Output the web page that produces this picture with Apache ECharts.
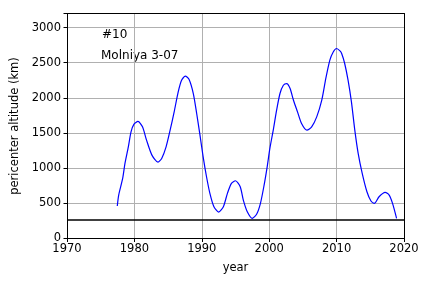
<!DOCTYPE html>
<html><head><meta charset="utf-8">
<script src="https://cdn.jsdelivr.net/npm/echarts@6/dist/echarts.min.js"></script>
<style>html,body{margin:0;padding:0;background:#fff}#c{width:432px;height:288px}</style>
</head><body><div id="c"></div>
<script>
const years = [1977.46,1977.67,1978.26,1978.6,1979.1,1979.5,1979.94,1980.53,1981.2,1981.8,1982.6,1983.5,1984.05,1984.7,1985.3,1985.9,1986.5,1987.0,1987.55,1988.1,1988.74,1989.24,1989.73,1990.2,1990.7,1991.2,1991.8,1992.5,1993.2,1993.8,1994.4,1995.0,1995.7,1996.16,1996.75,1997.5,1998.15,1998.7,1999.2,1999.7,2000.1,2000.6,2001.1,2001.6,2002.1,2002.6,2003.1,2003.6,2004.2,2004.8,2005.6,2006.3,2007.05,2007.8,2008.4,2009.0,2009.5,2010.0,2010.5,2010.75,2011.2,2011.7,2012.2,2012.7,2013.2,2013.8,2014.5,2015.1,2015.6,2016.3,2017.2,2017.8,2018.3,2018.9];
const altitudes = [462,618,855,1068,1304,1517,1626,1665,1588,1399,1186,1087,1139,1304,1541,1801,2085,2251,2308,2265,2062,1778,1470,1162,878,642,452,376,452,642,784,821,736,547,381,287,348,500,736,1020,1281,1541,1825,2062,2180,2204,2133,1967,1801,1636,1541,1588,1730,1967,2276,2536,2653,2702,2668,2631,2489,2251,1943,1541,1210,926,665,533,500,594,656,618,500,287];
const refLineYears = [1970, 2020];
const refLineValue = 263;
const xTicks = [1970,1980,1990,2000,2010,2020];
const yTicks = [0,500,1000,1500,2000,2500,3000];
const labelNumber = '#10';
const satName = 'Molniya 3-07';

const chart = echarts.init(document.getElementById('c'));
const font = 'DejaVu Sans';
const frameAxis = {show:true,axisLine:{show:true,onZero:false,lineStyle:{color:'#000',width:1}},axisTick:{show:false},axisLabel:{show:false},splitLine:{show:false}};
chart.setOption({
  animation:false,
  grid:{left:67,right:28,top:13.5,bottom:49.5},
  xAxis:[{type:'value',min:xTicks[0],max:xTicks[xTicks.length-1],interval:10,
    name:'year',nameLocation:'middle',nameGap:24,nameTextStyle:{fontFamily:font,fontSize:11.5,color:'#000'},
    axisLine:{show:true,onZero:false,lineStyle:{color:'#000',width:1}},
    axisTick:{show:true,length:3.5,lineStyle:{color:'#000'}},
    axisLabel:{margin:5,fontFamily:font,fontSize:11.5,color:'#000',formatter:v=>String(v)},
    splitLine:{show:true,lineStyle:{color:'#b0b0b0',width:1}}},
    Object.assign({type:'value',position:'top',min:xTicks[0],max:xTicks[xTicks.length-1]},frameAxis)],
  yAxis:[{type:'value',min:0,max:3200,interval:500,
    name:'pericenter altitude (km)',nameLocation:'middle',nameGap:40,nameTextStyle:{fontFamily:font,fontSize:11.5,color:'#000'},
    axisLine:{show:true,onZero:false,lineStyle:{color:'#000',width:1}},
    axisTick:{show:true,length:3.5,lineStyle:{color:'#000'}},
    axisLabel:{margin:6,fontFamily:font,fontSize:11.5,color:'#000',formatter:v=>yTicks.includes(v)?String(v):''},
    splitLine:{show:true,lineStyle:{color:'#b0b0b0',width:1}}},
    Object.assign({type:'value',position:'right',min:0,max:3200},frameAxis)],
  graphic:[
    {type:'text',left:102,top:29,style:{text:labelNumber,font:'12px "DejaVu Sans"',fill:'#000'}},
    {type:'text',left:101,top:50,style:{text:satName,font:'12px "DejaVu Sans"',fill:'#000'}}
  ],
  series:[
    {type:'line',data:refLineYears.map(x=>[x,refLineValue]),showSymbol:false,symbol:'none',
      lineStyle:{color:'#000',width:1.6},z:3},
    {type:'line',data:years.map((y,i)=>[y,altitudes[i]]),showSymbol:false,symbol:'none',smooth:0.25,
      lineStyle:{color:'#0000ff',width:1.2},z:4}
  ]
});
</script></body></html>
